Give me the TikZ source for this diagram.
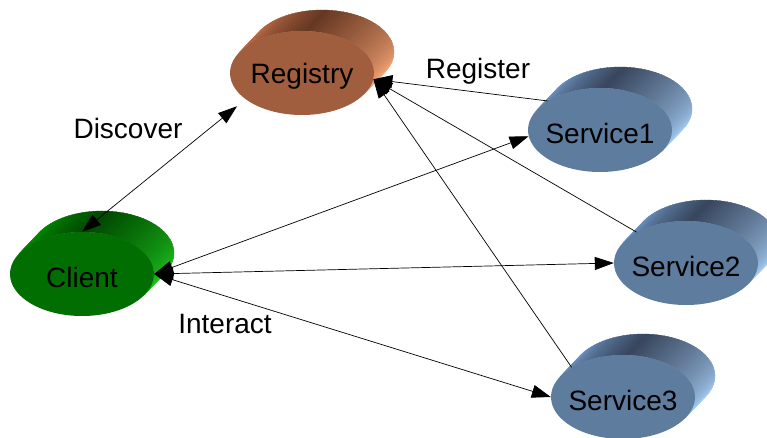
\documentclass[tikz,border=0pt]{standalone}
\usepackage{fontspec}
\setmainfont{Liberation Sans}
\usetikzlibrary{arrows.meta,shapes.geometric}

% colour palettes: front face, and dark/mid/light tones for the shaded rim
\definecolor{regfront}{RGB}{160,94,62}
\definecolor{regdark}{RGB}{102,56,34}
\definecolor{regmid}{RGB}{196,112,76}
\definecolor{reglight}{RGB}{255,170,122}
\definecolor{clfront}{RGB}{0,110,0}
\definecolor{cldark}{RGB}{0,72,0}
\definecolor{clmid}{RGB}{0,146,0}
\definecolor{cllight}{RGB}{30,200,30}
\definecolor{svfront}{RGB}{94,124,158}
\definecolor{svdark}{RGB}{56,70,94}
\definecolor{svmid}{RGB}{112,152,200}
\definecolor{svlight}{RGB}{168,208,248}

\tikzset{
  disk/.style={ellipse, minimum width=144pt, minimum height=84pt, inner sep=0pt, draw=none},
  oneway/.style={draw, line width=0.7pt, -{Triangle[length=19pt,width=13pt]}},
  twoway/.style={draw, line width=0.7pt, {Triangle[length=19pt,width=13pt]}-{Triangle[length=19pt,width=13pt]}},
  caption/.style={inner sep=0pt}
}

% an extruded ellipse: shaded rim strips, then the flat front face as a node
\newcommand\drawdisk[5]{%
  \foreach \a in {-151,-148,...,26}{%
    \pgfmathsetmacro\b{\a+3.6}%
    \ifnum\a<-88
      \pgfmathtruncatemacro\t{(\a+151)/63*100}%
      \colorlet{bandc}{#4dark!\t!#4mid}%
    \else
      \pgfmathtruncatemacro\t{(\a+88)/114*100}%
      \colorlet{bandc}{#4light!\t!#4dark}%
    \fi
    \fill[bandc, draw=bandc, line width=0.3pt, line join=round]
      ({#2+72*cos(\a)},{#3+42*sin(\a)}) -- ({#2+72*cos(\b)},{#3+42*sin(\b)})
      -- ++(20,-21) -- ({#2+20+72*cos(\a)},{#3-21+42*sin(\a)}) -- cycle;
  }
  \node[disk, fill=#4front, label={[yshift=-3pt]center:#5}] (#1) at (#2,#3) {};
}

\begin{document}
\begin{tikzpicture}[x=1pt, y=-1pt, font=\fontsize{28}{32}\selectfont]
\useasboundingbox (0,0) rectangle (767,438);

\drawdisk{reg}{302}{73}{reg}{Registry}
\drawdisk{cl}{82}{274}{cl}{Client}
\drawdisk{sa}{600}{130}{sv}{Service1}
\drawdisk{sb}{686}{263}{sv}{Service2}
\drawdisk{sc}{623}{397}{sv}{Service3}

% discovery
\draw[twoway, shorten >=11pt] (cl.north) -- (reg.205);
% registration
\draw[oneway] (sa.151) -- (reg.-5);
\draw[oneway] (sb.148) -- (reg.-5);
\draw[oneway] (sc.150) -- (reg.-5);
% interaction
\draw[twoway] (cl.east) -- (sa.185);
\draw[twoway] (cl.east) -- (sb.west);
\draw[twoway] (cl.east) -- (sc.west);

\node[caption] (discover) at (128,128) {Discover};
\node[caption] (register) at (478,71) {Register};
\node[caption] (interact) at (225,324) {Interact};
\end{tikzpicture}
\end{document}
